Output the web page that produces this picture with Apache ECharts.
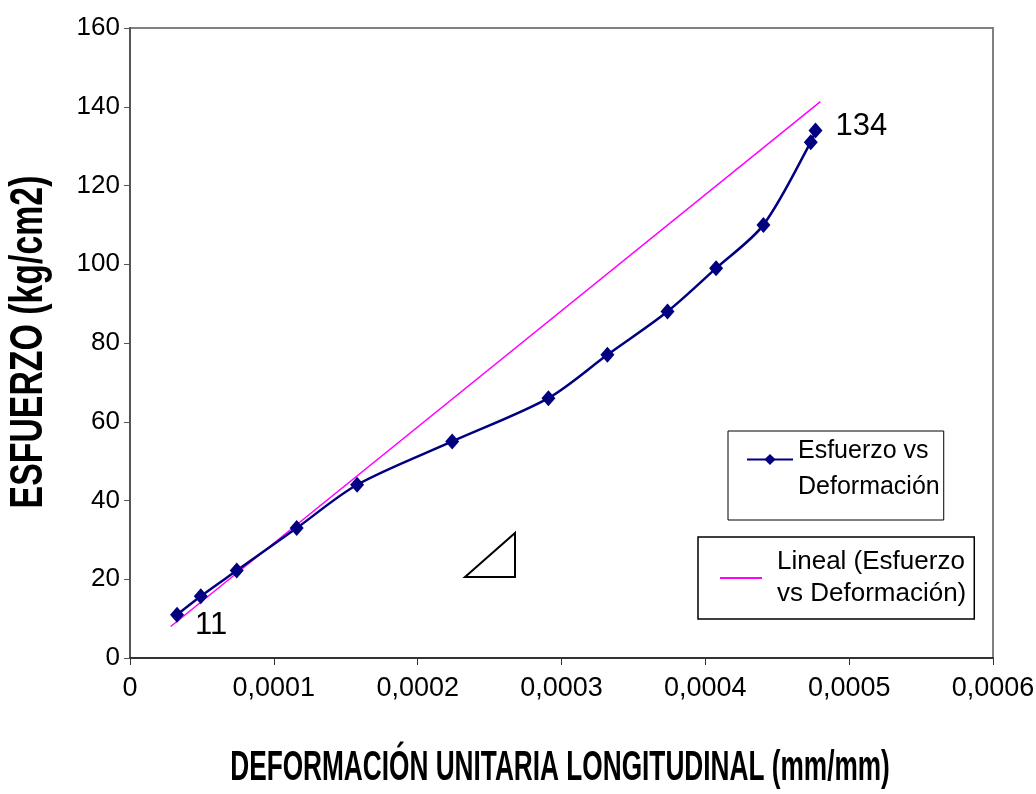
<!DOCTYPE html>
<html>
<head>
<meta charset="utf-8">
<script src="https://cdn.jsdelivr.net/npm/echarts@6/dist/echarts.min.js"></script>
<style>html,body{margin:0;padding:0;background:#fff}#chart{width:1036px;height:794px}</style>
</head>
<body>
<div id="chart"></div>
<script>
// Data
const strain = [0.0000327, 0.0000492, 0.0000742, 0.0001159, 0.0001579, 0.000224, 0.0002909, 0.0003319, 0.0003737, 0.0004075, 0.0004404, 0.0004733, 0.0004766];
const stress = [11, 15.7, 22.2, 33, 44, 55, 66, 77, 88, 99, 110, 131, 134];
const trendX = [0.0000283, 0.00048];
const trendY = [8.0, 141.3];
const labelledIndex = [0, 12];
const seriesNames = ['Esfuerzo vs Deformación', 'Lineal (Esfuerzo vs Deformación)'];
const legendLines1 = ['Esfuerzo vs', 'Deformación'];
const legendLines2 = ['Lineal (Esfuerzo', 'vs Deformación)'];
const yTitle = 'ESFUERZO (kg/cm2)';
const xTitle = 'DEFORMACIÓN UNITARIA LONGITUDINAL (mm/mm)';

const SANS = '"Liberation Sans", Arial, sans-serif';

const mainData = strain.map((x, i) => {
  const d = { value: [x, stress[i]] };
  if (labelledIndex.indexOf(i) >= 0) {
    d.label = {
      show: true,
      position: 'right',
      formatter: String(stress[i]),
      fontFamily: SANS,
      fontSize: 31,
      color: '#000',
      offset: i === 0 ? [6, 11] : [8, -4]
    };
  }
  return d;
});
const trendData = trendX.map((x, i) => [x, trendY[i]]);

const chart = echarts.init(document.getElementById('chart'), null, { renderer: 'canvas' });
chart.setOption({
  backgroundColor: '#fff',
  animation: false,
  grid: {
    left: 130, top: 28, right: 43, bottom: 136,
    containLabel: false, outerBoundsMode: 'none',
    show: true, borderColor: '#808080', borderWidth: 2, backgroundColor: '#fff'
  },
  xAxis: {
    type: 'value', min: 0, max: 0.0006, interval: 0.0001,
    splitLine: { show: false },
    axisLine: { show: true, onZero: false, lineStyle: { color: '#333', width: 2 } },
    axisTick: { show: true, inside: false, length: 7, lineStyle: { color: '#333', width: 1 } },
    axisLabel: {
      margin: 17, color: '#000', fontFamily: SANS, fontSize: 27,
      formatter: v => v === 0 ? '0' : v.toFixed(4).replace('.', ',')
    }
  },
  yAxis: {
    type: 'value', min: 0, max: 160, interval: 20,
    splitLine: { show: false },
    axisLine: { show: true, onZero: false, lineStyle: { color: '#555', width: 2 } },
    axisTick: { show: true, inside: false, length: 6, lineStyle: { color: '#555', width: 1 } },
    axisLabel: { margin: 10, color: '#000', fontFamily: SANS, fontSize: 26 }
  },
  legend: [
    {
      data: [seriesNames[0]],
      left: 728, top: 431,
      orient: 'vertical',
      padding: [8, 4, 20, 18],
      borderColor: '#000', borderWidth: 1,
      itemWidth: 46, itemHeight: 14,
      formatter: () => '{a|' + legendLines1[0] + '}\n{b|' + legendLines1[1] + '}',
      textStyle: {
        fontFamily: SANS, fontSize: 25, color: '#000',
        rich: {
          a: { fontFamily: SANS, fontSize: 25, lineHeight: 56, color: '#000' },
          b: { fontFamily: SANS, fontSize: 25, lineHeight: 16, color: '#000' }
        }
      }
    },
    {
      data: [{ name: seriesNames[1], icon: 'rect' }],
      left: 698, top: 537,
      orient: 'vertical',
      padding: [9, 8, 9, 22],
      borderColor: '#000', borderWidth: 1.5,
      itemWidth: 42, itemHeight: 2,
      formatter: () => legendLines2[0] + '\n' + legendLines2[1],
      textStyle: { fontFamily: SANS, fontSize: 26, lineHeight: 32, color: '#000', padding: [0, 0, 0, 10] }
    }
  ],
  series: [
    {
      name: seriesNames[1],
      type: 'line',
      data: trendData,
      symbol: 'none',
      lineStyle: { color: '#FF00FF', width: 1.5 },
      itemStyle: { color: '#FF00FF' },
      z: 2
    },
    {
      name: seriesNames[0],
      type: 'line',
      data: mainData,
      smooth: 0.3,
      symbol: 'diamond',
      symbolSize: [14, 16],
      lineStyle: { color: '#000080', width: 2.5 },
      itemStyle: { color: '#000080' },
      z: 3
    }
  ],
  graphic: [
    {
      type: 'text', x: 560, y: 768, scaleX: 0.61,
      style: { text: xTitle, textAlign: 'center', textVerticalAlign: 'middle',
               fontFamily: SANS, fontWeight: 'bold', fontSize: 43, fill: '#000' }
    },
    {
      type: 'text', x: 29, y: 342, rotation: Math.PI / 2, scaleX: 0.72,
      style: { text: yTitle, textAlign: 'center', textVerticalAlign: 'middle',
               fontFamily: SANS, fontWeight: 'bold', fontSize: 47, fill: '#000' }
    },
    {
      type: 'polygon',
      shape: { points: [[465, 577], [515, 577], [515, 533]] },
      style: { fill: '#fff', stroke: '#000', lineWidth: 2 }
    }
  ]
});
</script>
</body>
</html>
